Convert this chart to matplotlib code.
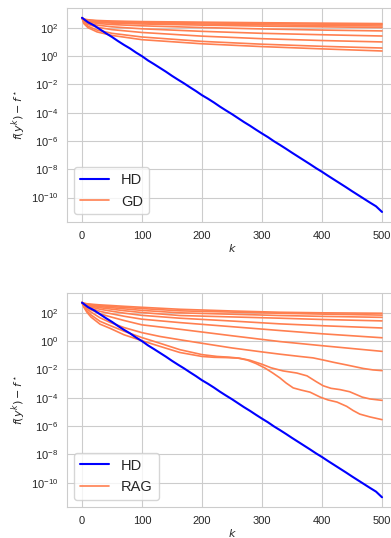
import numpy as np
import matplotlib
matplotlib.use("Agg")
import matplotlib.pyplot as plt
import matplotlib.font_manager as fm
import seaborn as sns
from matplotlib.ticker import NullLocator

# HD: log10 of f(y^k) - f*, read every 10 iterations
hd_k = list(range(0, 501, 10))
hd_log = [2.72, 2.40, 2.18, 1.90, 1.62, 1.36, 1.07, 0.80, 0.55, 0.26,
          0.00, -0.30, -0.56, -0.83, -1.10, -1.39, -1.66, -1.92, -2.20, -2.47,
          -2.76, -3.01, -3.28, -3.57, -3.84, -4.10, -4.38, -4.66, -4.92, -5.20,
          -5.47, -5.73, -6.02, -6.28, -6.55, -6.83, -7.10, -7.37, -7.64, -7.92,
          -8.18, -8.46, -8.73, -9.00, -9.27, -9.55, -9.82, -10.09, -10.36, -10.62,
          -11.02]

# GD: 9 step sizes
gd_k = [0, 3, 10, 25, 50, 100, 200, 300, 400, 500]
gd_log = [
    [2.72, 2.63, 2.58, 2.53, 2.49, 2.45, 2.41, 2.37, 2.34, 2.31],
    [2.72, 2.61, 2.55, 2.49, 2.45, 2.41, 2.36, 2.31, 2.27, 2.24],
    [2.72, 2.59, 2.52, 2.45, 2.40, 2.35, 2.28, 2.22, 2.18, 2.14],
    [2.72, 2.57, 2.48, 2.40, 2.34, 2.28, 2.20, 2.13, 2.08, 2.03],
    [2.72, 2.54, 2.43, 2.32, 2.24, 2.15, 2.03, 1.93, 1.85, 1.79],
    [2.72, 2.49, 2.35, 2.20, 2.08, 1.94, 1.76, 1.62, 1.52, 1.43],
    [2.72, 2.44, 2.25, 2.05, 1.88, 1.68, 1.42, 1.24, 1.11, 1.01],
    [2.72, 2.37, 2.12, 1.85, 1.62, 1.36, 1.05, 0.85, 0.70, 0.58],
    [2.72, 2.31, 2.02, 1.72, 1.47, 1.17, 0.88, 0.68, 0.52, 0.37],
]

# RAG: 10 step sizes (the slow ones share knots)
rag_k = [0, 3, 8, 15, 30, 47, 70, 100, 163, 250, 330, 400, 500]
rag_log = [
    [2.72, 2.68, 2.64, 2.61, 2.56, 2.52, 2.46, 2.39, 2.25, 2.13, 2.04, 2.00, 1.97],
    [2.72, 2.67, 2.62, 2.58, 2.51, 2.45, 2.38, 2.30, 2.14, 2.05, 1.97, 1.91, 1.84],
    [2.72, 2.65, 2.59, 2.53, 2.44, 2.37, 2.28, 2.17, 2.00, 1.90, 1.81, 1.75, 1.68],
    [2.72, 2.63, 2.55, 2.48, 2.36, 2.27, 2.15, 2.02, 1.81, 1.71, 1.62, 1.53, 1.43],
    [2.72, 2.61, 2.51, 2.41, 2.25, 2.13, 1.98, 1.82, 1.62, 1.42, 1.22, 1.09, 0.93],
    [2.72, 2.58, 2.45, 2.32, 2.10, 1.95, 1.76, 1.55, 1.31, 1.02, 0.75, 0.52, 0.24],
    [2.72, 2.54, 2.37, 2.21, 1.93, 1.72, 1.46, 1.15, 0.84, 0.38, -0.03, -0.32, -0.72],
]
rag7_k = [0, 3, 8, 15, 30, 47, 70, 100, 130, 163, 200, 250, 300, 330, 363, 385, 402,
          420, 441, 469, 485, 500]
rag7_log = [2.72, 2.5, 2.28, 2.05, 1.65, 1.32, 0.96, 0.6, 0.33, 0.1, -0.15, -0.48,
            -0.76, -0.92, -1.08, -1.18, -1.33, -1.5, -1.68, -1.93, -2.03, -2.08]
rag8_k = [0, 3, 8, 15, 30, 47, 70, 100, 130, 163, 200, 225, 245, 262, 280, 300, 315,
          335, 358, 375, 390, 402, 415, 430, 446, 456, 467, 480, 500]
rag8_log = [2.72, 2.45, 2.15, 1.85, 1.4, 1.1, 0.7, 0.25, -0.15, -0.6, -0.95, -1.08,
            -1.13, -1.2, -1.35, -1.63, -1.88, -2.1, -2.25, -2.45, -2.85, -3.15, -3.33,
            -3.42, -3.57, -3.75, -3.95, -4.08, -4.18]
rag9_k = [0, 3, 8, 15, 30, 47, 70, 100, 130, 163, 200, 220, 240, 260, 275, 290, 305,
          318, 330, 340, 352, 365, 380, 397, 410, 425, 441, 452, 463, 480, 500]
rag9_log = [2.72, 2.4, 2.05, 1.7, 1.2, 0.9, 0.45, 0.03, -0.37, -0.8, -1.08, -1.14,
            -1.16, -1.2, -1.33, -1.58, -1.9, -2.25, -2.6, -2.95, -3.3, -3.45, -3.6,
            -3.95, -4.15, -4.3, -4.6, -4.9, -5.15, -5.35, -5.54]

sns.set_style("whitegrid")
# keep the regular Liberation Sans, not the narrow cut
fm.fontManager.ttflist = [f for f in fm.fontManager.ttflist if 'Narrow' not in f.fname]
plt.rcParams['font.family'] = ['Liberation Sans', 'DejaVu Sans']

orange = 'coral'
fig = plt.figure(figsize=(3.91, 5.38), dpi=100)
ax1 = fig.add_axes([0.1714, 0.588, 0.844, 0.397])
ax2 = fig.add_axes([0.1714, 0.0576, 0.844, 0.398])

# top: GD
for i, v in enumerate(gd_log):
    ax1.semilogy(gd_k, 10.0 ** np.array(v), color=orange, lw=1.2,
                 label='GD' if i == 0 else '_nolegend_')
ax1.semilogy(hd_k, 10.0 ** np.array(hd_log), color='blue', lw=1.5, label='HD')

# bottom: RAG
curves = [(rag_k, v) for v in rag_log] + [(rag7_k, rag7_log), (rag8_k, rag8_log), (rag9_k, rag9_log)]
for i, (kk, v) in enumerate(curves):
    ax2.semilogy(kk, 10.0 ** np.array(v), color=orange, lw=1.2,
                 label='RAG' if i == 0 else '_nolegend_')
ax2.semilogy(hd_k, 10.0 ** np.array(hd_log), color='blue', lw=1.5, label='HD')

for ax in (ax1, ax2):
    ax.set_yticks([10.0 ** e for e in range(-10, 3, 2)])
    ax.yaxis.set_minor_locator(NullLocator())
    ax.set_xticks([0, 100, 200, 300, 400, 500])
    ax.tick_params(labelsize=8, pad=3)
    ax.set_xlabel('$k$', fontsize=8, labelpad=1)
    ax.set_ylabel(r'$f(y^k) - f^\star$', fontsize=8, labelpad=2)
    h, l = ax.get_legend_handles_labels()
    ax.legend(h[::-1], l[::-1], loc='lower left', fontsize=10.5)

fig.savefig('out.png', dpi=100)
